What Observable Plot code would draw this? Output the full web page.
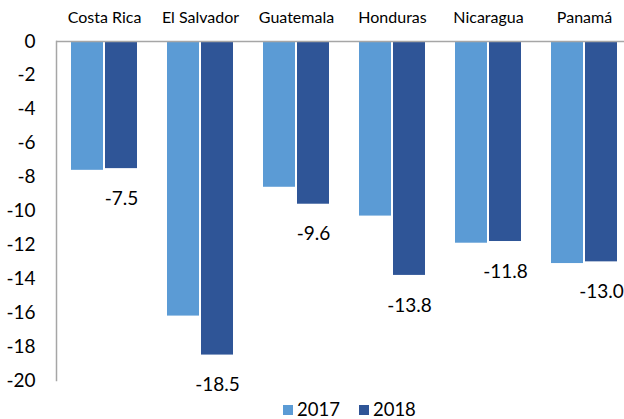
<!DOCTYPE html>
<html><head><meta charset="utf-8">
<script src="https://cdn.jsdelivr.net/npm/d3@7"></script>
<script src="https://cdn.jsdelivr.net/npm/@observablehq/plot@0.6"></script>
<style>
body{margin:0;background:#fff;font-family:Lato,sans-serif;}
#wrap{position:relative;width:624px;height:419px;overflow:hidden;}
#legend{position:absolute;left:283px;top:401px;display:flex;align-items:center;font-size:18.5px;color:#000;line-height:17px;}
.sw{width:10px;height:10px;display:inline-block;margin-right:4px;}
</style></head><body><div id="wrap"></div>
<script>
const countries = ["Costa Rica","El Salvador","Guatemala","Honduras","Nicaragua","Panamá"];
const years = ["2017","2018"];
const values2017 = [-7.6,-16.2,-8.6,-10.3,-11.9,-13.1];
const values2018 = [-7.5,-18.5,-9.6,-13.8,-11.8,-13.0];
const colors = ["#5b9bd5","#2f5597"];
const yTicks = d3.range(-20, 1, 2);

const data = countries.flatMap((c,i)=>[
  {country:c,year:years[0],value:values2017[i]},
  {country:c,year:years[1],value:values2018[i]}
]);
const labels = data.filter(d=>d.year===years[1]);

const chart = Plot.plot({
  width:624, height:396, marginLeft:56, marginRight:-8, marginTop:41, marginBottom:16,
  style:{fontFamily:"Lato, sans-serif", background:"white", overflow:"visible", fontSize:"19px", color:"#000"},
  fx:{domain:countries, padding:0, label:null},
  x:{domain:years, paddingInner:0.057, paddingOuter:0.4, axis:null},
  y:{domain:[-20,0], axis:null},
  color:{domain:years, range:colors},
  marks:[
    Plot.barY(data,{fx:"country",x:"year",y:"value",fill:"year"}),
    Plot.ruleY([0],{stroke:"#a6a6a6",strokeWidth:1.5}),
    Plot.frame({anchor:"left", facetAnchor:"left", stroke:"#a6a6a6", strokeWidth:1.5}),
    Plot.axisY({ticks:yTicks, tickSize:0, tickPadding:21, tickFormat:d=>String(d), fontSize:19, anchor:"left", label:null}),
    Plot.axisFx({anchor:"top", tickSize:0, tickPadding:19, fontSize:16, label:null}),
    Plot.text(labels,{fx:"country",x:"year",y:"value",text:d=>d.value.toFixed(1),dy:30,fontSize:19})
  ]
});
const wrap = document.getElementById("wrap");
wrap.appendChild(chart);
const legend = document.createElement("div");
legend.id = "legend";
years.forEach((y,i)=>{
  const item = document.createElement("span");
  item.style.display = "inline-flex";
  item.style.alignItems = "center";
  item.style.marginRight = i===0 ? "19px" : "0";
  const sw = document.createElement("span");
  sw.className = "sw";
  sw.style.background = colors[i];
  item.appendChild(sw);
  item.appendChild(document.createTextNode(y));
  legend.appendChild(item);
});
wrap.appendChild(legend);
</script>
</body></html>
